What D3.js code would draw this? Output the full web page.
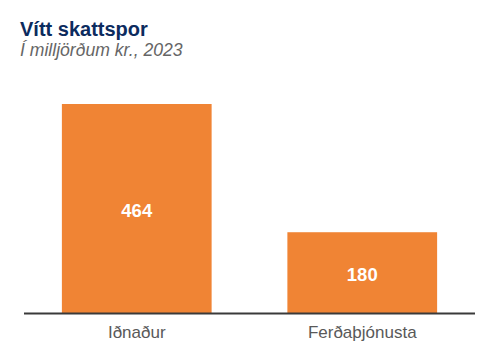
<!DOCTYPE html>
<html>
<head>
<meta charset="utf-8">
<script src="https://cdn.jsdelivr.net/npm/d3@7"></script>
<style>
  body { margin: 0; background: #fff; }
  svg { display: block; font-family: "Liberation Sans", Arial, sans-serif; }
</style>
</head>
<body>
<div id="chart"></div>
<script>
// data
const categories = ['Iðnaður', 'Ferðaþjónusta'];
const values = [464, 180];

const titleText = 'Vítt skattspor';
const subtitleText = 'Í milljörðum kr., 2023';

const W = 500, H = 359;
const svg = d3.select('#chart').append('svg').attr('width', W).attr('height', H);

// title
svg.append('text')
    .attr('x', 20).attr('y', 35.5)
    .attr('font-size', '20px').attr('font-weight', 'bold')
    .attr('fill', '#0c2b5e')
    .text(titleText);

svg.append('text')
    .attr('x', 20).attr('y', 55.5)
    .attr('font-size', '17.6px').attr('font-style', 'italic')
    .attr('fill', '#666666')
    .text(subtitleText);

// scales
const x = d3.scaleBand().domain(categories).range([24, 475])
    .paddingInner(0.336).paddingOuter(0.168);
const y = d3.scaleLinear().domain([0, 464]).range([313.5, 104]);

// bars
svg.selectAll('rect.bar')
    .data(values)
    .join('rect')
    .attr('class', 'bar')
    .attr('x', (d, i) => x(categories[i]))
    .attr('y', d => y(d))
    .attr('width', x.bandwidth())
    .attr('height', d => y(0) - y(d))
    .attr('fill', '#f08434');

// value labels
svg.selectAll('text.val')
    .data(values)
    .join('text')
    .attr('class', 'val')
    .attr('x', (d, i) => x(categories[i]) + x.bandwidth() / 2)
    .attr('y', d => (y(d) + y(0)) / 2 + 8)
    .attr('text-anchor', 'middle')
    .attr('font-size', '18.5px').attr('font-weight', 'bold')
    .attr('fill', '#ffffff')
    .text(d => d);

// x axis
const axis = svg.append('g')
    .attr('transform', `translate(0,${y(0)})`)
    .call(d3.axisBottom(x).tickSize(0).tickPadding(12));
axis.select('.domain').attr('stroke', '#3a3a3a').attr('stroke-width', 2)
    .attr('d', 'M24,0H475');
axis.selectAll('.tick text')
    .attr('font-family', '"Liberation Sans", Arial, sans-serif')
    .attr('font-size', '17px')
    .attr('fill', '#595959');
</script>
</body>
</html>
